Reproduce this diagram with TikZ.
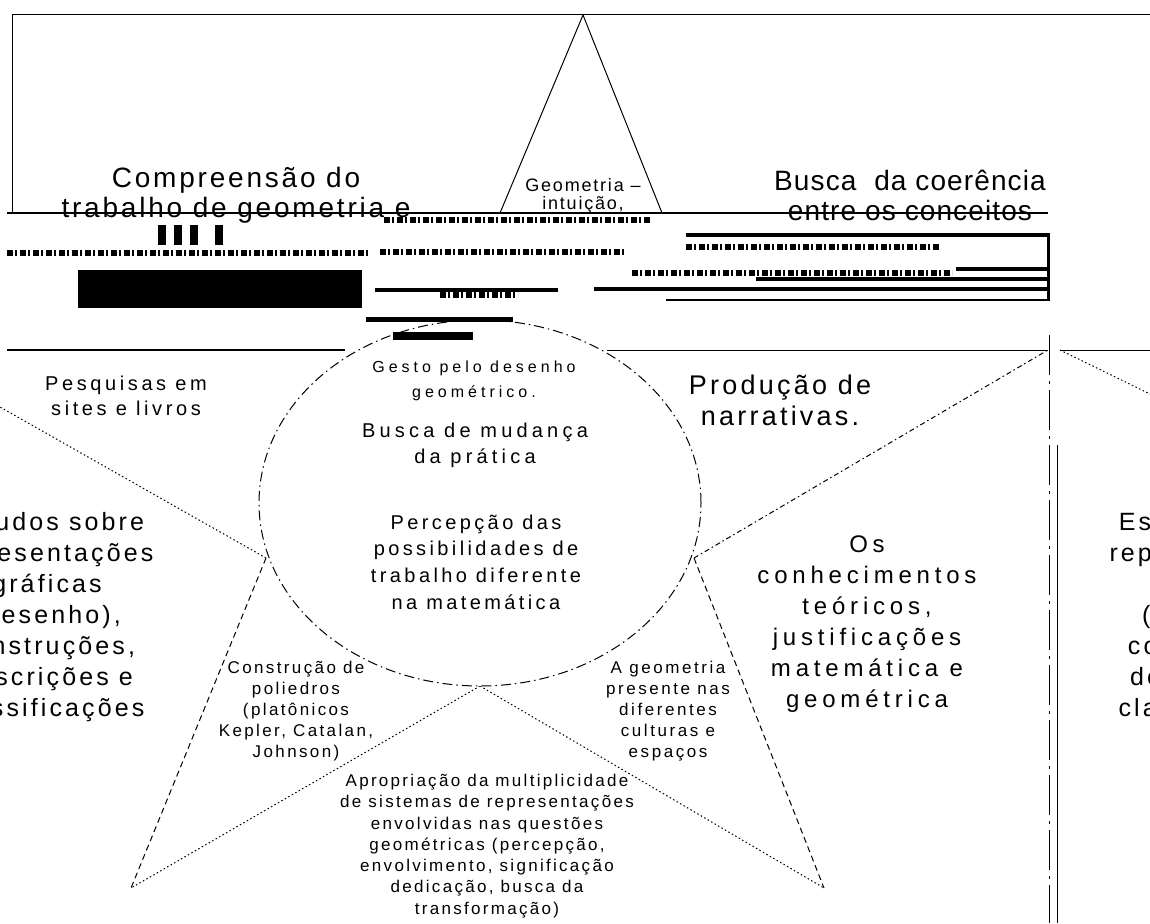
\documentclass[tikz,border=0pt]{standalone}
\usepackage{fontspec}
\setmainfont{Liberation Sans}
\usetikzlibrary{shapes.geometric}
\newcommand{\spacedFont}[3]{\fontsize{#1}{#2}\selectfont\addfontfeatures{LetterSpace=#3}}

\begin{document}
\begin{tikzpicture}
[x=1pt,y=-1pt,
  lineDecorate/.style={-,line width=1pt},
  dotDecorate/.style={lineDecorate,dash pattern=on 1.5pt off 2.5pt},
  dashDecorate/.style={lineDecorate,dash pattern=on 6pt off 4pt},
  dashDotDecorate/.style={lineDecorate,dash pattern=on 5pt off 3pt on 1.5pt off 3pt},
  noiseDecorate/.style={line width=6pt,dash pattern=on 6pt off 2pt on 2pt off 3pt},
  textDecorate/.style={align=center,inner sep=0pt}]
\fill[white] (0,0) rectangle (1150,923);
\useasboundingbox (0,0) rectangle (1150,923);
%% frames
\draw[lineDecorate] (12,213) -- (12,15) -- (1150,15);
\draw[lineDecorate,line width=1.5pt] (7,350) -- (345,350);
\draw[lineDecorate] (607,350) -- (1048,350);
\draw[lineDecorate] (1060,350) -- (1150,350);
\draw[lineDecorate,dash pattern=on 40pt off 6pt on 3pt off 6pt] (1049,335) -- (1049,923);
\draw[lineDecorate] (1057,445) -- (1057,923);
%% points of the star
\foreach \nodename/\x/\y in {
  apex/583/15, baseLeft/500/213, baseRight/662/213,
  tipLeft/0/407, tipLowLeft/131/888, tipLowRight/824/888, tipRight/1048/350,
  farInner/1060/350, tipFar/1150/394,
  innerLeft/266/558, innerBottom/480/686, innerRight/694/558}
{
  \coordinate (\nodename) at (\x,\y);
}
%% arms of the star
\path
\foreach \startnode/\endnode in {apex/baseLeft, apex/baseRight}
{
  (\startnode) edge[lineDecorate] (\endnode)
}
\foreach \startnode/\endnode in {innerLeft/tipLeft, innerBottom/tipLowLeft, innerBottom/tipLowRight, farInner/tipFar}
{
  (\startnode) edge[dotDecorate] (\endnode)
}
\foreach \startnode/\endnode in {innerLeft/tipLowLeft, innerRight/tipLowRight}
{
  (\startnode) edge[dashDecorate] (\endnode)
}
\foreach \startnode/\endnode in {innerRight/tipRight}
{
  (\startnode) edge[dashDotDecorate] (\endnode)
};
%% centre
\node (core) at (480,503) [ellipse,draw,fill=white,minimum width=442,minimum height=366,inner sep=0pt,
  lineDecorate,dash pattern=on 10pt off 4pt on 1.5pt off 4pt] {};
%% texts
\node (compre) at (236,195.5) [textDecorate,font=\spacedFont{28}{30}{10}] {Compreensão do\\trabalho de geometria e};
\node (busca) at (910,195.5) [textDecorate,font=\spacedFont{28}{30}{4}] {Busca~ da coerência\\entre os conceitos};
\node (geom) at (583,196) [textDecorate,font=\spacedFont{18}{18}{10}] {Geometria –\\intuição,};
\node (pesq) at (126,395.5) [textDecorate,font=\spacedFont{20}{25}{18}] {Pesquisas em\\sites e livros};
\node (gesto) at (474,380.5) [textDecorate,font=\spacedFont{16}{25}{25}] {Gesto pelo desenho\\geométrico.};
\node (mudanca) at (475,445) [textDecorate,font=\spacedFont{20}{26}{21}] {Busca de mudança\\da prática};
\node (percep) at (476,562) [textDecorate,font=\spacedFont{20}{26.7}{17}] {Percepção das\\possibilidades de\\trabalho diferente\\na matemática};
\node (narrat) at (780,400.5) [textDecorate,font=\spacedFont{27}{31}{12}] {Produção de\\narrativas.};
\node (conhec) at (867,624.5) [textDecorate,font=\spacedFont{24}{31}{20}] {Os\\conhecimentos\\teóricos,\\justificações\\matemática e\\geométrica};
\foreach \nodename/\x in {estudosLeft/47, estudosRight/1216}
{
  \node (\nodename) at (\x,617) [textDecorate,font=\spacedFont{25}{31}{12.5}] {Estudos sobre\\representações\\gráficas\\(desenho),\\construções,\\descrições e\\classificações};
}
\node (constr) at (296,711) [textDecorate,font=\spacedFont{17}{21}{14}] {Construção de\\poliedros\\(platônicos\\Kepler, Catalan,\\Johnson)};
\node (ageom) at (668,711) [textDecorate,font=\spacedFont{17}{21}{15}] {A geometria\\presente nas\\diferentes\\culturas e\\espaços};
\node (aprop) at (487,846) [textDecorate,font=\spacedFont{17}{21.3}{13.5}] {Apropriação da multiplicidade\\de sistemas de representações\\envolvidas nas questões\\geométricas (percepção,\\envolvimento, significação\\dedicação, busca da\\transformação)};
%% broken band under the top box
\draw[lineDecorate,line width=2.5pt] (7,213) -- (1048,213);
\foreach \xa/\ya/\xb/\yb in {
  78/270/362/308, 366/317/513/322, 375/288/558/292, 594/287/1048/291,
  686/233/1048/237, 956/267/1048/271, 756/277/1048/281, 666/299/1048/301,
  158/225/166/245, 174/225/182/245, 190/225/198/245, 215/225/223/245,
  393/332/473/340, 1047/233/1050/301}
{
  \fill (\xa,\ya) rectangle (\xb,\yb);
}
\foreach \xa/\xb/\y in {
  7/370/253, 384/650/220, 380/625/252, 686/940/247, 632/952/273, 440/518/295}
{
  \draw[noiseDecorate] (\xa,\y) -- (\xb,\y);
}
\end{tikzpicture}
\end{document}
